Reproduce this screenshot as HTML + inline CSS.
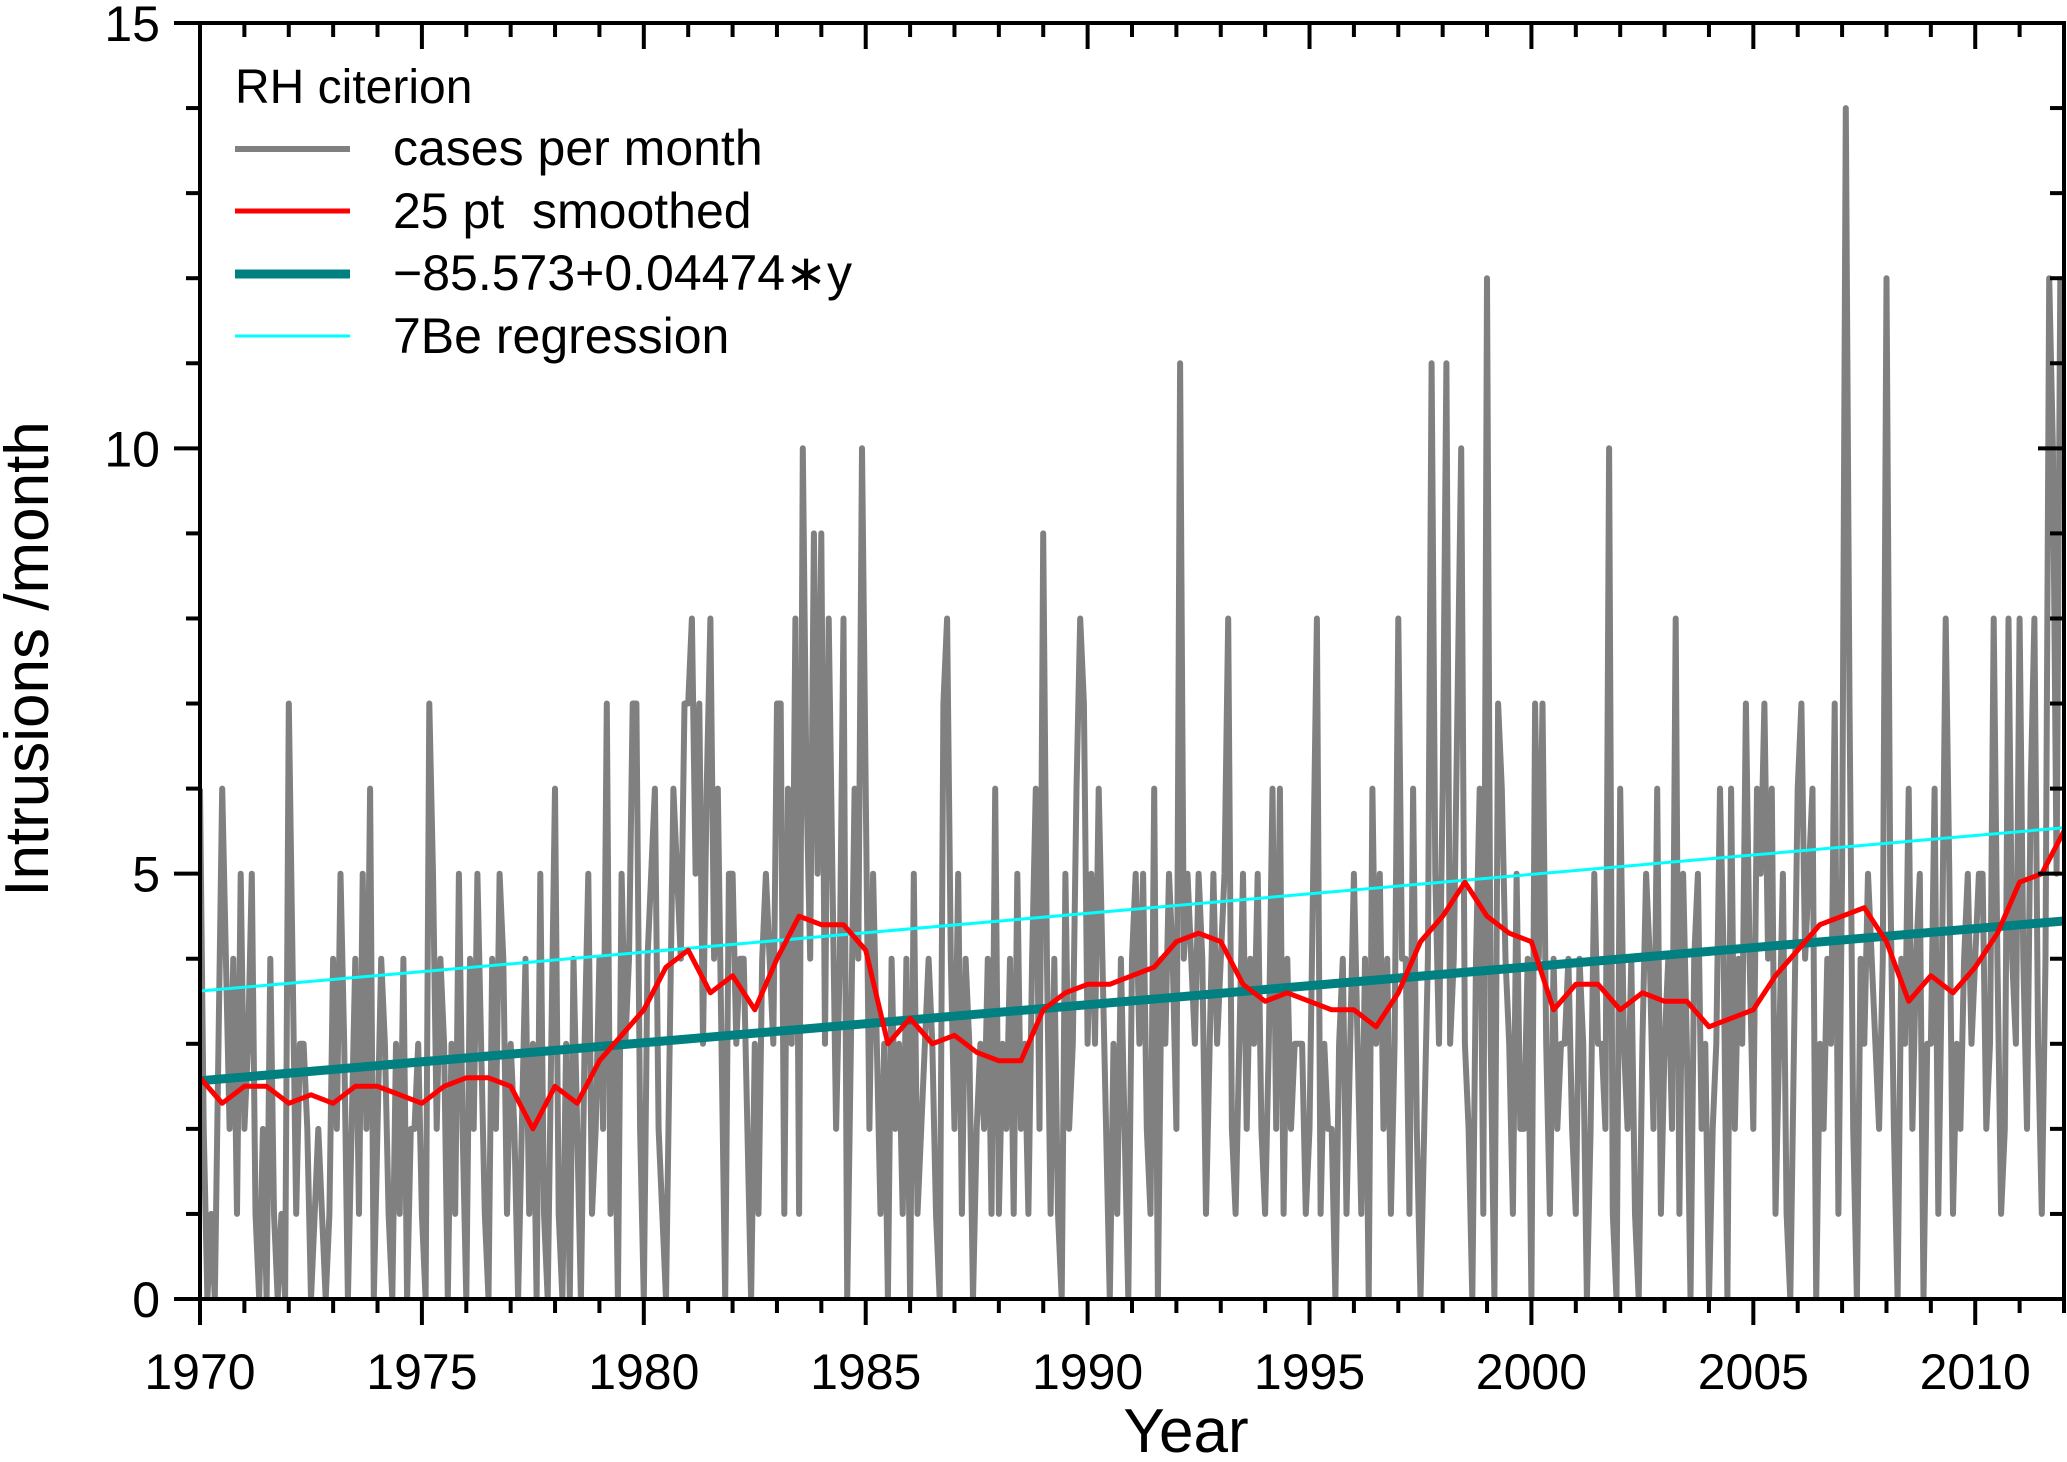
<!DOCTYPE html>
<html><head><meta charset="utf-8"><style>
html,body{margin:0;padding:0;background:#fff;}
svg{display:block;font-family:"Liberation Sans",Arial,sans-serif;}
</style></head><body>
<svg id="chart" width="2067" height="1462" viewBox="0 0 2067 1462" xmlns="http://www.w3.org/2000/svg">
<g id="series"></g>
<g id="axes"></g>
<g id="legend">
<text x="235" y="103" font-size="48">RH citerion</text>
<line x1="235" y1="149" x2="350" y2="149" stroke="#808080" stroke-width="6"/>
<text x="393" y="165" font-size="50">cases per month</text>
<line x1="235" y1="211" x2="350" y2="211" stroke="#ff0000" stroke-width="5"/>
<text x="393" y="228" font-size="50">25 pt&#160; smoothed</text>
<line x1="235" y1="274" x2="350" y2="274" stroke="#008080" stroke-width="9"/>
<text x="393" y="290" font-size="50">−85.573+0.04474∗y</text>
<line x1="235" y1="336" x2="350" y2="336" stroke="#00ffff" stroke-width="3"/>
<text x="393" y="353" font-size="50">7Be regression</text>
</g>
<text x="1186" y="1452" font-size="62" text-anchor="middle">Year</text>
<text transform="translate(48,659) rotate(-90)" font-size="62" text-anchor="middle">Intrusions /month</text>
</svg>
<script>
const monthly = [
6,2,0,1,0,3,6,4,2,4,1,5,
2,3,5,1,0,2,0,4,1,0,1,0,
7,4,1,3,3,2,0,1,2,1,0,1,
4,2,5,3,0,2,4,1,5,2,6,0,
2,4,3,1,0,3,1,4,0,2,2,3,
1,0,7,5,2,4,3,0,3,1,5,2,
0,4,2,5,3,1,0,4,2,5,4,1,
3,2,0,2,4,1,3,0,5,1,0,3,
6,1,0,3,0,4,2,0,3,5,1,2,
4,2,7,1,3,0,5,3,4,7,7,2,
0,4,5,6,2,1,0,3,6,5,4,7,
7,8,5,7,3,6,8,4,6,3,0,5,
5,3,4,4,2,0,3,1,4,5,4,3,
7,7,1,6,3,8,1,10,6,4,9,5,
9,3,8,5,2,4,8,0,3,6,4,10,
6,2,5,3,1,3,0,4,2,3,1,4,
0,5,1,2,3,4,3,1,0,7,8,4,
2,5,1,4,3,0,2,3,2,4,1,6,
1,3,2,4,1,5,2,3,1,4,6,2,
9,4,1,4,1,0,5,2,3,6,8,7,
3,5,3,6,4,2,0,3,1,4,2,0,
4,5,3,5,2,1,6,0,4,3,5,4,
2,11,4,5,4,3,5,4,1,3,5,3,
4,5,8,2,1,3,5,2,4,3,5,2,
1,3,6,2,6,1,4,2,3,3,3,1,
2,5,8,1,3,2,2,0,3,4,1,3,
5,3,1,4,0,6,3,5,2,4,1,3,
8,4,4,1,6,2,0,2,4,11,5,3,
6,11,3,4,7,10,3,2,0,4,6,1,
12,3,0,7,6,4,3,1,5,2,2,4,
0,7,4,7,3,1,4,2,3,3,4,2,
1,4,3,0,2,5,3,3,2,10,1,0,
6,3,2,4,1,0,3,5,4,2,6,1,
3,4,2,8,1,5,3,0,4,5,2,3,
0,2,3,6,4,0,6,2,4,3,7,4,
2,6,5,7,4,6,1,3,5,1,0,3,
6,7,4,5,6,0,3,2,4,3,7,1,
5,14,7,2,0,4,3,5,4,3,2,4,
12,5,2,0,4,3,6,2,4,5,0,3,
3,6,1,4,8,5,1,3,2,4,5,3,
4,5,5,2,3,8,4,1,2,8,4,3,
8,4,2,6,8,3,1,4,12,10,5,12];
const startYear = 1970;
const smoothStep = 0.5;
const smoothed = [2.6,2.3,2.5,2.5,2.3,2.4,2.3,2.5,2.5,2.4,2.3,2.5,2.6,2.6,2.5,2.0,2.5,2.3,2.8,3.1,
3.4,3.9,4.1,3.6,3.8,3.4,4.0,4.5,4.4,4.4,4.1,3.0,3.3,3.0,3.1,2.9,2.8,2.8,3.4,3.6,
3.7,3.7,3.8,3.9,4.2,4.3,4.2,3.7,3.5,3.6,3.5,3.4,3.4,3.2,3.6,4.2,4.5,4.9,4.5,4.3,
4.2,3.4,3.7,3.7,3.4,3.6,3.5,3.5,3.2,3.3,3.4,3.8,4.1,4.4,4.5,4.6,4.2,3.5,3.8,3.6,
3.9,4.3,4.9,5.0,5.5];
const fitIntercept = -85.573, fitSlope = 0.04474;
const beStart = [1970, 3.62], beEnd = [2012, 5.54];
const xTicks = [1970,1975,1980,1985,1990,1995,2000,2005,2010];
const yTicks = [0,5,10,15];

const X0=200, X1=2064, Y0=1299, Y1=23, XMIN=1970, XMAX=2012, YMAX=15;
const xs = t => X0 + (t-XMIN)*(X1-X0)/(XMAX-XMIN);
const ys = v => Y0 - v*(Y0-Y1)/YMAX;
const NS="http://www.w3.org/2000/svg";
function mk(tag, attrs, parent){const e=document.createElementNS(NS,tag);for(const k in attrs)e.setAttribute(k,attrs[k]);parent.appendChild(e);return e;}
const series=document.getElementById('series'), axes=document.getElementById('axes');

const defs=mk('defs',{},series);
const cp=mk('clipPath',{id:'clip'},defs);
mk('rect',{x:X0,y:Y1,width:X1-X0,height:Y0-Y1},cp);
const g=mk('g',{'clip-path':'url(#clip)'},series);

let d=monthly.map((v,i)=>(i?'L':'M')+xs(startYear+i/12).toFixed(1)+' '+ys(v).toFixed(1)).join('');
const pm=mk('path',{d:d,fill:'none',stroke:'#808080','stroke-width':6,'stroke-linejoin':'round'},g);



const pl=mk('line',{x1:xs(XMIN),y1:ys(fitIntercept+fitSlope*XMIN),x2:xs(XMAX),y2:ys(fitIntercept+fitSlope*XMAX),stroke:'#008080','stroke-width':9},g);



const pc=mk('line',{x1:xs(beStart[0]),y1:ys(beStart[1]),x2:xs(beEnd[0]),y2:ys(beEnd[1]),stroke:'#00ffff','stroke-width':3},g);



d=smoothed.map((v,i)=>(i?'L':'M')+xs(startYear+i*smoothStep).toFixed(1)+' '+ys(v).toFixed(1)).join('');
const ps=mk('path',{d:d,fill:'none',stroke:'#ff0000','stroke-width':5,'stroke-linejoin':'round'},g);



const fr=mk('rect',{x:X0,y:Y1,width:X1-X0,height:Y0-Y1,fill:'none',stroke:'#000','stroke-width':4},axes);



for(let yr=XMIN; yr<=XMAX; yr++){
  const major = xTicks.includes(yr);
  const x=xs(yr), L=major?26:14;
  mk('line',{x1:x,y1:Y0,x2:x,y2:Y0+L,stroke:'#000','stroke-width':4},axes);
  mk('line',{x1:x,y1:Y1,x2:x,y2:Y1+L,stroke:'#000','stroke-width':4},axes);
}
xTicks.forEach(t=>{
  const tx=mk('text',{x:xs(t),y:1389,'font-size':50,'text-anchor':'middle'},axes);
  tx.textContent=t;
  
  
});
for(let v=0; v<=YMAX; v++){
  const major = yTicks.includes(v);
  const y=ys(v), L=major?26:14;
  mk('line',{x1:X0-L,y1:y,x2:X0,y2:y,stroke:'#000','stroke-width':4},axes);
  mk('line',{x1:X1-L,y1:y,x2:X1,y2:y,stroke:'#000','stroke-width':4},axes);
}
yTicks.forEach(v=>{
  const tx=mk('text',{x:160,y:ys(v)+18,'font-size':50,'text-anchor':'end'},axes);
  tx.textContent=v;
  
  
});
</script>
</body></html>
